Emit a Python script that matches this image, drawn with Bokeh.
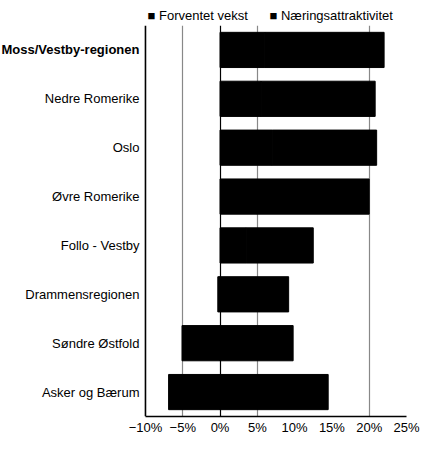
from bokeh.plotting import figure
from bokeh.models import (ColumnDataSource, FactorRange, Range1d, FixedTicker, Span, Grid, Title)
from bokeh.core.properties import value
from bokeh.embed import file_html
from bokeh.resources import INLINE

categories = ["Moss/Vestby-regionen", "Nedre Romerike", "Oslo", "Øvre Romerike",
              "Follo - Vestby", "Drammensregionen", "Søndre Østfold", "Asker og Bærum"]
forventet_vekst = [6.0, 5.5, 7.0, 5.0, 3.5, -0.3, -5.1, -6.9]
naeringsattraktivitet = [16.0, 15.3, 14.0, 15.0, 9.0, 9.2, 9.8, 14.5]
label_styles = ["bold", "normal", "normal", "normal", "normal", "normal", "normal", "normal"]
x_ticks = [-10, -5, 0, 5, 10, 15, 20, 25]
x_tick_labels = ["−10%", "−5%", "0%", "5%", "10%", "15%", "20%", "25%"]
grid_ticks = [-5, 5, 20]
series_names = ["Forventet vekst", "Næringsattraktivitet"]

# Excel-style stacking: negatives go left of zero, positives stack right
v_left = [min(0, v) for v in forventet_vekst]
v_right = [max(0, v) for v in forventet_vekst]
a_left = [max(0, v) for v in forventet_vekst]
a_right = [l + a for l, a in zip(a_left, naeringsattraktivitet)]

x_min, x_max = x_ticks[0], x_ticks[-1]
src = ColumnDataSource(dict(cat=categories, vl=v_left, vr=v_right, al=a_left, ar=a_right,
                            style=label_styles, xpos=[x_min] * len(categories)))

FONT = "Liberation Sans"
LABEL_ROOM = 19.44   # x-room (axis units) left of the axis, holds the category labels
RIGHT_ROOM = 1.88    # x-room right of 25% so its tick label stays inside the page

p = figure(width=420, height=437, output_backend="svg", toolbar_location=None,
           y_range=FactorRange(factors=list(reversed(categories))),
           x_range=Range1d(x_min - LABEL_ROOM, x_max + RIGHT_ROOM),
           min_border_left=0, min_border_right=0, min_border_top=25, min_border_bottom=0)

p.outline_line_color = None
p.yaxis.visible = False

# grid lines
p.ygrid.visible = False
p.xgrid.ticker = FixedTicker(ticks=grid_ticks)
p.xgrid.grid_line_color = "#888888"
p.xgrid.grid_line_width = 1.2
p.add_layout(Grid(dimension=0, ticker=FixedTicker(ticks=[0]),
                  grid_line_color="black", grid_line_width=1.2))

r1 = p.hbar(y="cat", left="vl", right="vr", height=0.72, source=src,
            fill_color="black", line_color="black", line_width=1)
r2 = p.hbar(y="cat", left="al", right="ar", height=0.72, source=src,
            fill_color="black", line_color="black", line_width=1)

# x axis
p.xaxis.bounds = (x_min, x_max)
p.xaxis.ticker = FixedTicker(ticks=x_ticks)
p.xaxis.major_label_overrides = {t: l for t, l in zip(x_ticks, x_tick_labels)}
p.xaxis.major_tick_line_color = None
p.xaxis.major_tick_out = 0
p.xaxis.major_tick_in = 0
p.xaxis.minor_tick_line_color = None
p.xaxis.axis_line_color = "black"
p.xaxis.axis_line_width = 1.5
p.xaxis.major_label_text_font = FONT
p.xaxis.major_label_text_font_size = "13px"
p.xaxis.major_label_text_color = "black"
p.xaxis.major_label_standoff = 3

# y axis line at the left end of the value axis
p.add_layout(Span(location=x_min, dimension="height", line_color="black", line_width=1.6))

# category labels
p.text(x="xpos", y="cat", text="cat", source=src, x_offset=-6,
       text_align="right", text_baseline="middle",
       text_font=value(FONT), text_font_size=value("13px"), text_color="black",
       text_font_style="style")

# legend line (both series are black)
gap = "\u00a0" * 5
legend_text = "■ " + series_names[0] + gap + " ■ " + series_names[1]
p.title = Title(text=legend_text, align="left", offset=147, standoff=5,
                text_font=FONT, text_font_size="13px", text_font_style="normal",
                text_color="black")

open("out.html", "w").write(file_html(p, INLINE))
